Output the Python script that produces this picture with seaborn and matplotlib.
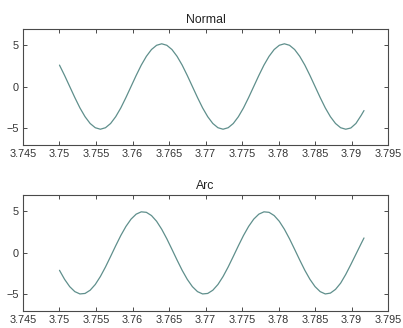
import matplotlib
matplotlib.use('Agg')
import matplotlib.pyplot as plt
import seaborn as sns
import pandas as pd

# sample times (same grid for both panels)
t = [3.7500, 3.7507, 3.7514, 3.7521, 3.7528, 3.7535, 3.7542, 3.7549, 3.7556, 3.7563,
     3.7570, 3.7577, 3.7584, 3.7591, 3.7598, 3.7605, 3.7612, 3.7619, 3.7626, 3.7633,
     3.7640, 3.7647, 3.7654, 3.7661, 3.7668, 3.7675, 3.7682, 3.7689, 3.7696, 3.7703,
     3.7710, 3.7717, 3.7724, 3.7731, 3.7738, 3.7745, 3.7752, 3.7759, 3.7766, 3.7773,
     3.7780, 3.7787, 3.7794, 3.7801, 3.7808, 3.7815, 3.7822, 3.7829, 3.7836, 3.7843,
     3.7850, 3.7857, 3.7864, 3.7871, 3.7878, 3.7885, 3.7892, 3.7899, 3.7906, 3.7913,
     3.7917]

normal = [2.63, 1.38, 0.05, -1.28, -2.53, -3.59, -4.41, -4.92, -5.10, -4.92,
          -4.41, -3.59, -2.53, -1.28, 0.05, 1.38, 2.63, 3.69, 4.51, 5.02,
          5.20, 5.02, 4.51, 3.69, 2.63, 1.38, 0.05, -1.28, -2.53, -3.59,
          -4.41, -4.92, -5.10, -4.92, -4.41, -3.59, -2.53, -1.28, 0.05, 1.38,
          2.63, 3.69, 4.51, 5.02, 5.20, 5.02, 4.51, 3.69, 2.63, 1.38,
          0.05, -1.28, -2.53, -3.59, -4.41, -4.92, -5.10, -4.95, -4.40, -3.45,
          -2.85]

arc = [-2.10, -3.19, -4.07, -4.67, -4.95, -4.89, -4.50, -3.81, -2.85, -1.70,
       -0.43, 0.86, 2.10, 3.19, 4.07, 4.67, 4.95, 4.89, 4.50, 3.81,
       2.85, 1.70, 0.43, -0.86, -2.10, -3.19, -4.07, -4.67, -4.95, -4.89,
       -4.50, -3.81, -2.85, -1.70, -0.43, 0.86, 2.10, 3.19, 4.07, 4.67,
       4.95, 4.89, 4.50, 3.81, 2.85, 1.70, 0.43, -0.86, -2.10, -3.19,
       -4.07, -4.67, -4.95, -4.85, -4.40, -3.65, -2.60, -1.40, -0.15, 1.10,
       1.80]

titles = ['Normal', 'Arc']
xticks = [3.745, 3.75, 3.755, 3.76, 3.765, 3.77, 3.775, 3.78, 3.785, 3.79, 3.795]
xticklabels = ['3.745', '3.75', '3.755', '3.76', '3.765', '3.77', '3.775', '3.78', '3.785', '3.79', '3.795']
yticks = [-5, 0, 5]

sns.set_theme(style='white')
plt.rcParams['font.family'] = ['Liberation Sans', 'DejaVu Sans']

line_color = '#5f8f8c'
axis_color = '#4a4a4a'

fig = plt.figure(figsize=(4.03, 3.28), dpi=100)
ax_top = fig.add_axes([0.057, 0.558, 0.906, 0.354])
ax_bot = fig.add_axes([0.057, 0.052, 0.906, 0.354])

for ax, vals, title in zip([ax_top, ax_bot], [normal, arc], titles):
    df = pd.DataFrame({'t': t, 'v': vals})
    sns.lineplot(data=df, x='t', y='v', ax=ax, color=line_color, linewidth=0.9)
    ax.set_xlim(3.745, 3.795)
    ax.set_ylim(-7, 7)
    ax.set_xticks(xticks)
    ax.set_xticklabels(xticklabels)
    ax.set_yticks(yticks)
    ax.set_xlabel('')
    ax.set_ylabel('')
    ax.set_title(title, fontsize=8.8, color='#222222', pad=4)
    for s in ax.spines.values():
        s.set_color(axis_color)
        s.set_linewidth(0.8)
    ax.tick_params(direction='in', length=3, width=0.7, color=axis_color,
                   bottom=True, left=True, top=True, right=True,
                   labelsize=7.8, labelcolor='#333333', pad=3)

fig.savefig('out.png', dpi=100)
